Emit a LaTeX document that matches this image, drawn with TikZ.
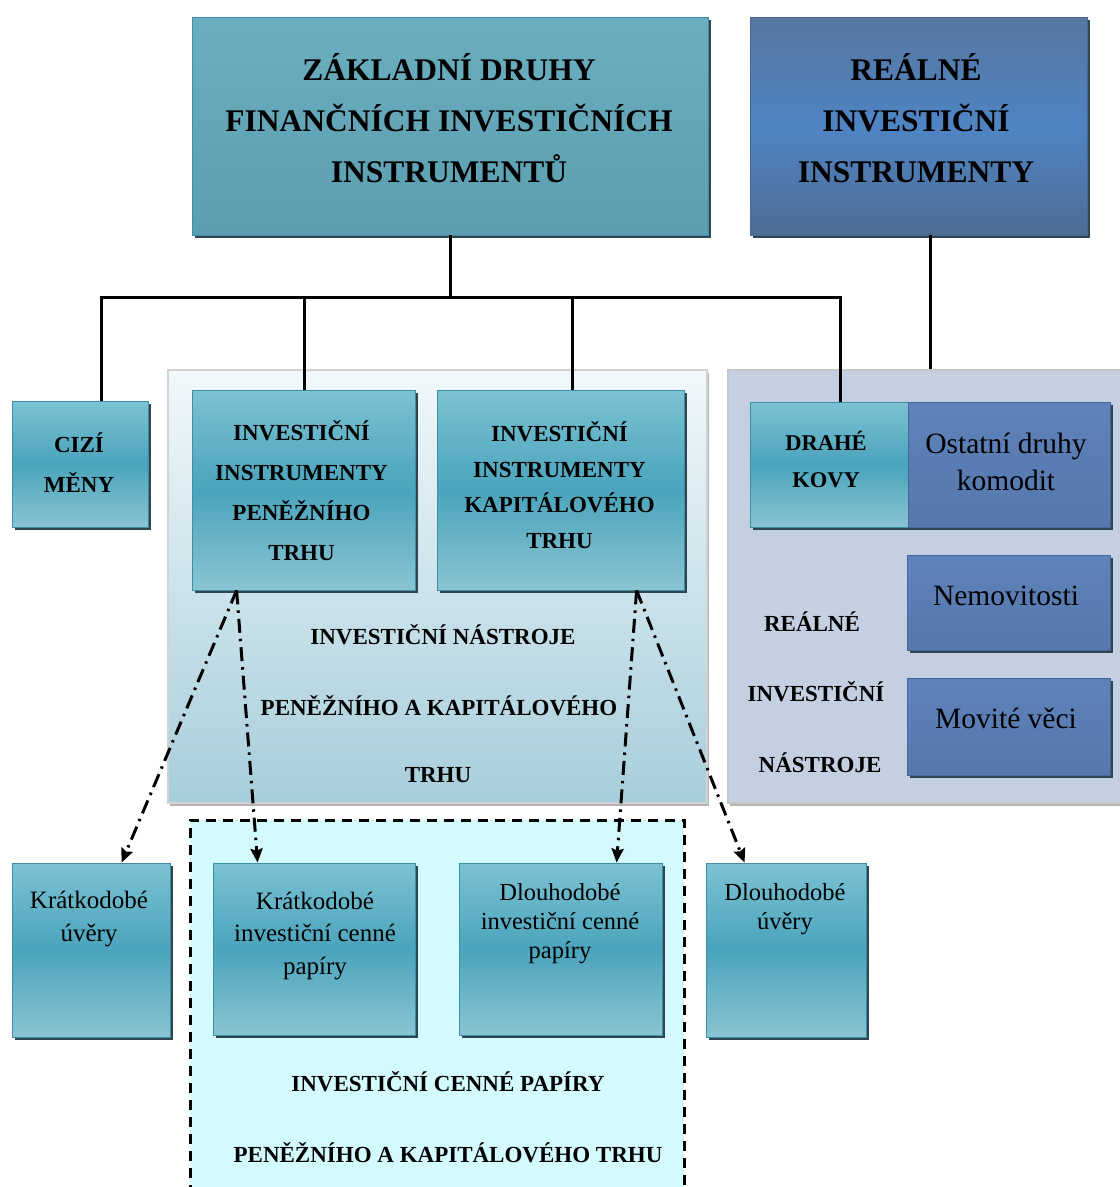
\documentclass[tikz,border=0pt]{standalone}
\usepackage{fontspec}
\setmainfont{Liberation Serif}
\usetikzlibrary{shadows,arrows.meta,calc}
\definecolor{tealT}{HTML}{7CC2D3}
\definecolor{tealM}{HTML}{4AA4BC}
\definecolor{tealB}{HTML}{8AC4D2}
\definecolor{tealE}{HTML}{3E8FA5}
\definecolor{bigT}{HTML}{6AAEBF}
\definecolor{bigB}{HTML}{5A9EB0}
\definecolor{rbT}{HTML}{56779F}
\definecolor{rbM}{HTML}{4F84C4}
\definecolor{rbB}{HTML}{4E6D93}
\definecolor{blT}{HTML}{5E83BA}
\definecolor{blB}{HTML}{5577AC}
\definecolor{blE}{HTML}{46669A}
\definecolor{shadowc}{HTML}{2E4650}
\definecolor{midT}{HTML}{F1F8FB}
\definecolor{midB}{HTML}{A7CEDB}
\definecolor{rpan}{HTML}{C5CFE2}
\definecolor{cyanfill}{HTML}{D3FAFD}
\tikzset{
  shad/.style={drop shadow={shadow xshift=2.5pt, shadow yshift=-3pt, fill=shadowc, opacity=1}},
  tealbox/.style={rectangle, inner sep=0pt, top color=tealT, bottom color=tealB, middle color=tealM, draw=tealE, line width=0.8pt, shad},
  bluebox/.style={rectangle, inner sep=0pt, top color=blT, bottom color=blB, draw=blE, line width=0.8pt, shad},
  panel/.style={rectangle, inner sep=0pt, line width=1.5pt, drop shadow={shadow xshift=2pt, shadow yshift=-3pt, fill=gray!60, opacity=1}},
  btxt/.style={align=center, font=\bfseries\fontsize{23}{40}\selectfont, inner sep=0pt},
  rtxt/.style={align=center, font=\fontsize{25}{32.5}\selectfont, inner sep=0pt},
  conn/.style={line width=3pt, black},
  ddarrow/.style={line width=3pt, black, dash pattern=on 14pt off 6pt on 2.5pt off 6pt, -{Stealth[length=14pt,width=12pt,inset=2pt]}}
}
\begin{document}
\begin{tikzpicture}[x=1pt,y=-1pt]
\useasboundingbox (0,0) rectangle (1120,1187);
\fill[white] (0,0) rectangle (1120,1187);
\begin{scope}
\clip (0,0) rectangle (1120,1187);
% panels
\node[panel, top color=midT, bottom color=midB, draw=gray!35, minimum width=539pt, minimum height=433pt] (midpanel) at (437.5,586.5) {};
\node[panel, fill=rpan, draw=gray!45, minimum width=396pt, minimum height=433pt] (rightpanel) at (926,586.5) {};
% dashed region
\fill[cyanfill] (190,820) rectangle (684,1195);
\draw[line width=3pt, dash pattern=on 10pt off 7pt] (190,1195) -- (190,820) -- (684,820) -- (684,1195);
\end{scope}

% top boxes
\node[rectangle, inner sep=0pt, top color=bigT, bottom color=bigB, draw=tealE, line width=0.8pt, shad, minimum width=516pt, minimum height=218pt] (zak) at (450,126) {};
\node[btxt, font=\bfseries\fontsize{31.5}{51}\selectfont] (zakt) at (449,118) {ZÁKLADNÍ DRUHY\\FINANČNÍCH INVESTIČNÍCH\\INSTRUMENTŮ};
\node[rectangle, inner sep=0pt, top color=rbT, bottom color=rbB, middle color=rbM, draw=blE, line width=0.8pt, shad, minimum width=337pt, minimum height=218pt] (realne) at (918.5,126) {};
\node[btxt, font=\bfseries\fontsize{31.5}{51}\selectfont] (realnet) at (916,118) {REÁLNÉ\\INVESTIČNÍ\\INSTRUMENTY};

% second row boxes
\node[tealbox, minimum width=136pt, minimum height=126pt] (ciz) at (80,464) {};
\node[btxt] (cizt) at (79,463) {CIZÍ\\MĚNY};
\node[tealbox, minimum width=223pt, minimum height=200pt] (penez) at (303.5,490) {};
\node[btxt] (penezt) at (301.5,491) {INVESTIČNÍ\\INSTRUMENTY\\PENĚŽNÍHO\\TRHU};
\node[tealbox, minimum width=247pt, minimum height=200pt] (kapital) at (560.5,490) {};
\node[btxt, font=\bfseries\fontsize{23}{35.5}\selectfont] (kapitalt) at (559.5,485) {INVESTIČNÍ\\INSTRUMENTY\\KAPITÁLOVÉHO\\TRHU};
\node[tealbox, minimum width=158pt, minimum height=125pt] (drahe) at (829,464.5) {};
\node[btxt, font=\bfseries\fontsize{22.5}{37}\selectfont] (drahet) at (826,459.5) {DRAHÉ\\KOVY};
\node[bluebox, minimum width=202pt, minimum height=125pt] (ostatni) at (1009,464.5) {};
\node[rtxt, font=\fontsize{29.5}{37}\selectfont] (ostatnit) at (1006,461.5) {Ostatní druhy\\komodit};
\node[bluebox, minimum width=203pt, minimum height=95pt] (nemov) at (1008.5,602.5) {};
\node[rtxt, font=\fontsize{29.5}{37}\selectfont] (nemovt) at (1006,596) {Nemovitosti};
\node[bluebox, minimum width=203pt, minimum height=97pt] (movite) at (1008.5,726.5) {};
\node[rtxt, font=\fontsize{29.5}{37}\selectfont] (movitet) at (1006,718) {Movité věci};

% panel labels
\node[btxt] (mid1) at (443,635) {INVESTIČNÍ NÁSTROJE};
\node[btxt] (mid2) at (439,706) {PENĚŽNÍHO A KAPITÁLOVÉHO};
\node[btxt] (mid3) at (438,775) {TRHU};
\node[btxt] (rp1) at (812,622) {REÁLNÉ};
\node[btxt] (rp2) at (816,692) {INVESTIČNÍ};
\node[btxt] (rp3) at (820,763) {NÁSTROJE};

% bottom boxes
\node[tealbox, minimum width=158pt, minimum height=174pt] (kuv) at (91,950) {};
\node[rtxt] (kuvt) at (89,919) {Krátkodobé\\úvěry};
\node[tealbox, minimum width=202pt, minimum height=172pt] (kinv) at (314,949) {};
\node[rtxt] (kinvt) at (315,935.5) {Krátkodobé\\investiční cenné\\papíry};
\node[tealbox, minimum width=203pt, minimum height=172pt] (dinv) at (560.5,949) {};
\node[rtxt, font=\fontsize{24.5}{29}\selectfont] (dinvt) at (560,924) {Dlouhodobé\\investiční cenné\\papíry};
\node[tealbox, minimum width=160pt, minimum height=174pt] (duv) at (786,950) {};
\node[rtxt, font=\fontsize{24.5}{29}\selectfont] (duvt) at (785,909) {Dlouhodobé\\úvěry};

\node[btxt] (cp1) at (448,1082) {INVESTIČNÍ CENNÉ PAPÍRY};
\node[btxt] (cp2) at (448,1153) {PENĚŽNÍHO A KAPITÁLOVÉHO TRHU};

% tree connectors
\coordinate (j1) at (101,297);
\coordinate (j2) at (304,297);
\coordinate (j3) at (572,297);
\coordinate (j4) at (840,297);
\coordinate (j5) at (930,370);
\draw[conn] (zak.south) -- (zak.south |- j1);
\draw[conn] (j1 |- ciz.north) -- (j1) -- (j4) -- (j4 |- drahe.north);
\draw[conn] (j2) -- (j2 |- penez.north);
\draw[conn] (j3) -- (j3 |- kapital.north);
\draw[conn] (j5 |- realne.south) -- (j5 |- rightpanel.north);

% dash-dot arrows
\coordinate (s1) at ($(penez.south west)+(45,0)$);
\coordinate (s2) at ($(kapital.south west)+(200,0)$);
\draw[ddarrow] (s1) -- ($(kuv.north west)+(110,0)$);
\draw[ddarrow] (s1) -- ($(kinv.north west)+(45,0)$);
\draw[ddarrow] (s2) -- ($(dinv.north west)+(158,0)$);
\draw[ddarrow] (s2) -- ($(duv.north west)+(39,0)$);
\end{tikzpicture}
\end{document}
